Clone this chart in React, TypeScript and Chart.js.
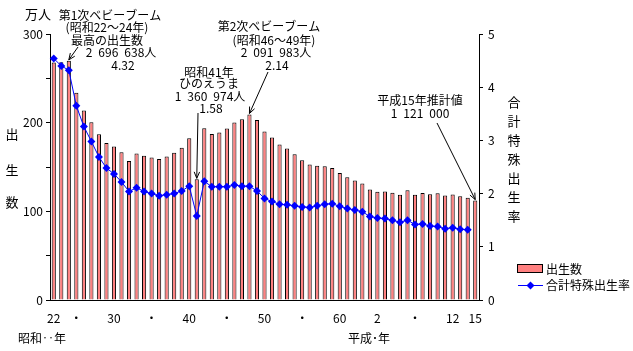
import React, { useEffect, useRef } from 'react';
import { Chart, registerables } from 'chart.js';

Chart.register(...registerables);

// Years 1947 (昭和22) – 2003 (平成15)
const years = [
  1947, 1948, 1949, 1950, 1951, 1952, 1953, 1954, 1955, 1956,
  1957, 1958, 1959, 1960, 1961, 1962, 1963, 1964, 1965, 1966,
  1967, 1968, 1969, 1970, 1971, 1972, 1973, 1974, 1975, 1976,
  1977, 1978, 1979, 1980, 1981, 1982, 1983, 1984, 1985, 1986,
  1987, 1988, 1989, 1990, 1991, 1992, 1993, 1994, 1995, 1996,
  1997, 1998, 1999, 2000, 2001, 2002, 2003,
];

// 出生数 (万人)
const births = [
  267.9, 268.2, 269.7, 233.8, 213.8, 200.5, 186.8, 177.0, 173.1, 166.5,
  156.7, 165.3, 162.6, 160.6, 158.9, 161.9, 166.0, 171.7, 182.4, 136.1,
  193.6, 187.2, 188.9, 193.4, 200.1, 203.9, 209.2, 203.0, 190.1, 183.3,
  175.5, 170.9, 164.3, 157.7, 152.9, 151.5, 150.9, 149.0, 143.2, 138.3,
  134.7, 131.4, 124.7, 122.2, 122.3, 120.9, 118.8, 123.8, 118.7, 120.7,
  119.2, 120.3, 117.8, 119.1, 117.1, 115.4, 112.1,
];

// 合計特殊出生率
const tfr = [
  4.54, 4.40, 4.32, 3.65, 3.26, 2.98, 2.69, 2.48, 2.37, 2.22,
  2.04, 2.11, 2.04, 2.00, 1.96, 1.98, 2.00, 2.05, 2.14, 1.58,
  2.23, 2.13, 2.13, 2.13, 2.16, 2.14, 2.14, 2.05, 1.91, 1.85,
  1.80, 1.79, 1.77, 1.75, 1.74, 1.77, 1.80, 1.81, 1.76, 1.72,
  1.69, 1.66, 1.57, 1.54, 1.53, 1.50, 1.46, 1.50, 1.42, 1.43,
  1.39, 1.38, 1.34, 1.36, 1.33, 1.32, null,
];

const xTickYears = [1947, 1950, 1955, 1960, 1965, 1970, 1975, 1980, 1985, 1990, 1995, 2000, 2003];
const xTickTexts = ['22', '・', '30', '・', '40', '・', '50', '・', '60', '2', '・', '12', '15'];

const FONT = '"Noto Sans CJK JP", "Noto Sans", sans-serif';
const BAR_COLOR = '#FF8080';
const LINE_COLOR = '#0000FF';
const SP = '\u2002';

function drawArrow(ctx: CanvasRenderingContext2D, x1: number, y1: number, x2: number, y2: number) {
  ctx.save();
  ctx.strokeStyle = '#000';
  ctx.lineWidth = 1;
  ctx.beginPath();
  ctx.moveTo(x1, y1);
  ctx.lineTo(x2, y2);
  const ang = Math.atan2(y2 - y1, x2 - x1);
  const len = 7;
  const spread = 0.4;
  ctx.moveTo(x2, y2);
  ctx.lineTo(x2 - len * Math.cos(ang - spread), y2 - len * Math.sin(ang - spread));
  ctx.moveTo(x2, y2);
  ctx.lineTo(x2 - len * Math.cos(ang + spread), y2 - len * Math.sin(ang + spread));
  ctx.stroke();
  ctx.restore();
}

const annotationPlugin = {
  id: 'annotations',
  afterDraw(chart: any) {
    const ctx: CanvasRenderingContext2D = chart.ctx;
    const xs = chart.scales.x;
    const ys = chart.scales.y;
    const barTop = (year: number) => {
      const i = years.indexOf(year);
      return { x: xs.getPixelForValue(i), y: ys.getPixelForValue(births[i]) - 1 };
    };
    ctx.save();
    ctx.fillStyle = '#000';
    ctx.textBaseline = 'middle';
    ctx.textAlign = 'center';
    ctx.font = `12px ${FONT}`;

    const texts: [string, number, number][] = [
      ['第1次ベビーブーム', 110, 15],
      ['(昭和22～24年)', 107, 27],
      ['最高の出生数', 107, 40],
      [`2${SP}696${SP}638人`, 121, 52],
      ['4.32', 123, 65],
      ['第2次ベビーブーム', 269, 26],
      ['(昭和46～49年)', 274, 40],
      [`2${SP}091${SP}983人`, 276, 52],
      ['2.14', 277, 65],
      ['昭和41年', 209, 72],
      ['ひのえうま', 209, 83],
      [`1${SP}360${SP}974人`, 210, 96],
      ['1.58', 211, 108],
      ['平成15年推計値', 420, 100],
      [`1${SP}121${SP}000`, 420, 113],
    ];
    texts.forEach(([t, x, y]) => ctx.fillText(t, x, y));

    ctx.font = `13px ${FONT}`;
    ctx.fillText('万人', 38, 14);
    ctx.fillText('出', 12, 134);
    ctx.fillText('生', 12, 170);
    ctx.fillText('数', 12, 202);
    const rt = ['合', '計', '特', '殊', '出', '生', '率'];
    rt.forEach((c, k) => ctx.fillText(c, 514, 102 + k * 19));

    ctx.font = `12px ${FONT}`;
    ctx.textAlign = 'left';
    ctx.fillText('昭和‥年', 18, 338);
    ctx.fillText('平成･年', 348, 338);

    // arrows
    const p1 = barTop(1949);
    drawArrow(ctx, 78, 47, p1.x, p1.y);
    const p2 = barTop(1973);
    drawArrow(ctx, 268, 72, p2.x, p2.y);
    const p3 = barTop(1966);
    drawArrow(ctx, 198, 113, p3.x, p3.y);
    const p4 = barTop(2003);
    drawArrow(ctx, 437, 123, p4.x, p4.y);

    // legend
    ctx.fillStyle = BAR_COLOR;
    ctx.fillRect(518, 265, 24, 7);
    ctx.strokeStyle = '#000';
    ctx.lineWidth = 1;
    ctx.strokeRect(517.5, 264.5, 25, 8);
    ctx.fillStyle = '#000';
    ctx.textBaseline = 'middle';
    ctx.fillText('出生数', 546, 269);

    ctx.strokeStyle = LINE_COLOR;
    ctx.beginPath();
    ctx.moveTo(518, 285.5);
    ctx.lineTo(543, 285.5);
    ctx.stroke();
    ctx.fillStyle = LINE_COLOR;
    ctx.beginPath();
    ctx.moveTo(530.5, 281.5);
    ctx.lineTo(534.5, 285.5);
    ctx.lineTo(530.5, 289.5);
    ctx.lineTo(526.5, 285.5);
    ctx.closePath();
    ctx.fill();
    ctx.fillStyle = '#000';
    ctx.fillText('合計特殊出生率', 546, 285);
    ctx.restore();
  },
};

export default function App() {
  const ref = useRef<HTMLCanvasElement>(null);
  useEffect(() => {
    if (!ref.current) return;
    const chart = new Chart(ref.current, {
      type: 'bar',
      data: {
        labels: years.map(String),
        datasets: [
          {
            type: 'line',
            label: '合計特殊出生率',
            data: tfr,
            yAxisID: 'y1',
            borderColor: LINE_COLOR,
            backgroundColor: LINE_COLOR,
            borderWidth: 1,
            pointStyle: 'rectRot',
            pointRadius: 4,
            pointBorderWidth: 0,
            spanGaps: false,
            order: 0,
          } as any,
          {
            type: 'bar',
            label: '出生数',
            data: births,
            yAxisID: 'y',
            backgroundColor: BAR_COLOR,
            borderColor: '#000',
            borderWidth: 1,
            barPercentage: 0.55,
            categoryPercentage: 1,
            order: 1,
          },
        ],
      },
      options: {
        responsive: false,
        animation: false,
        layout: { padding: { top: 34, left: 0, right: 0, bottom: 0 } },
        plugins: { legend: { display: false }, tooltip: { enabled: false } },
        scales: {
          x: {
            grid: { display: false },
            border: { display: true, color: '#000' },
            ticks: {
              autoSkip: false,
              maxRotation: 0,
              minRotation: 0,
              padding: 3,
              color: '#000',
              font: { family: FONT, size: 12 },
              callback: (_v: any, i: number) => {
                const k = xTickYears.indexOf(years[i]);
                return k >= 0 ? xTickTexts[k] : '';
              },
            },
            afterFit: (s: any) => { s.height = 51; },
          },
          y: {
            position: 'left',
            min: 0,
            max: 300,
            grid: { display: true, drawOnChartArea: false, drawTicks: true, tickLength: 4, color: '#000' },
            border: { display: true, color: '#000' },
            ticks: {
              stepSize: 50,
              padding: 3,
              color: '#000',
              font: { family: FONT, size: 12 },
              callback: (v: any) => (v % 100 === 0 ? String(v) : ''),
            },
            afterFit: (s: any) => { s.width = 50; },
          },
          y1: {
            position: 'right',
            min: 0,
            max: 5,
            grid: { display: true, drawOnChartArea: false, drawTicks: true, tickLength: 4, color: '#000' },
            border: { display: true, color: '#000' },
            ticks: {
              stepSize: 1,
              padding: 5,
              color: '#000',
              font: { family: FONT, size: 12 },
            },
            afterFit: (s: any) => { s.width = 154; },
          },
        },
      },
      plugins: [annotationPlugin],
    });
    return () => chart.destroy();
  }, []);
  return (
    <div style={{ position: 'absolute', left: 0, top: 0, width: 633, height: 351, background: '#fff' }}>
      <canvas ref={ref} width={633} height={351} />
    </div>
  );
}
